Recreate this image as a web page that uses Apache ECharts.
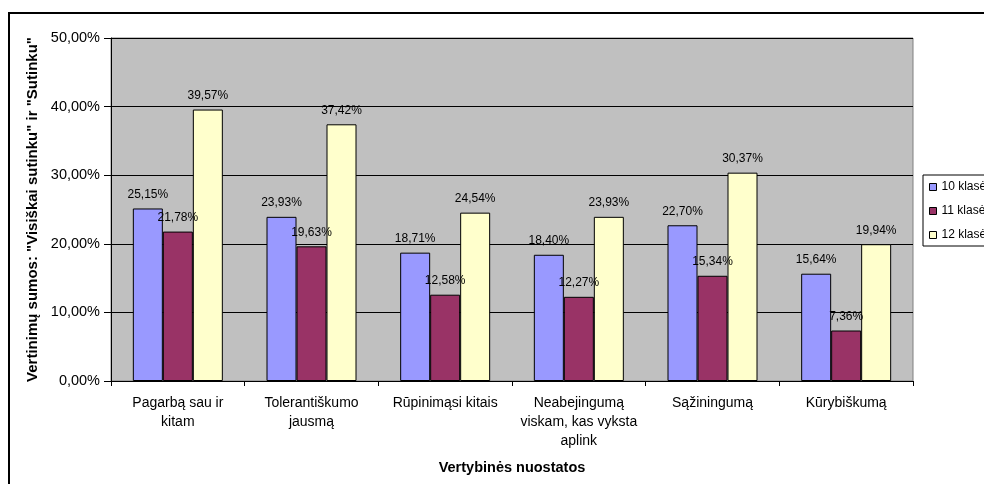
<!DOCTYPE html>
<html>
<head>
<meta charset="utf-8">
<script src="https://cdn.jsdelivr.net/npm/echarts@6/dist/echarts.min.js"></script>
<style>
  html, body { margin: 0; padding: 0; overflow: hidden; background: #fff; }
  #chart { width: 1010px; height: 510px; }
</style>
</head>
<body>
<div id="chart"></div>
<script>
const categories = ['Pagarbą sau ir\nkitam', 'Tolerantiškumo\njausmą', 'Rūpinimąsi kitais',
  'Neabejingumą\nviskam, kas vyksta\naplink', 'Sąžiningumą', 'Kūrybiškumą']
const seriesNames = ['10 klasė', '11 klasė', '12 klasė']
const grade10 = [25.15, 23.93, 18.71, 18.40, 22.70, 15.64]
const grade11 = [21.78, 19.63, 12.58, 12.27, 15.34, 7.36]
const grade12 = [39.57, 37.42, 24.54, 23.93, 30.37, 19.94]
const colors = ['#9999FF', '#993366', '#FFFFCC']

const pct = v => v.toFixed(2).replace('.', ',') + '%'
const font = 'Liberation Sans, Arial, sans-serif'

const chart = echarts.init(document.getElementById('chart'))

const makeSeries = (name, data, i) => ({
  name: name,
  type: 'bar',
  data: data,
  barWidth: 30,
  barGap: '0%',
  itemStyle: { color: colors[i], borderColor: '#000', borderWidth: 1 },
  label: {
    show: true,
    position: 'top',
    distance: 8,
    formatter: p => pct(p.value),
    color: '#000',
    fontFamily: font,
    fontSize: 12
  }
})

chart.setOption({
  animation: false,
  textStyle: { fontFamily: font },
  graphic: [{
    type: 'rect',
    shape: { x: 9, y: 13, width: 1100, height: 600 },
    style: { fill: 'none', stroke: '#000', lineWidth: 2 },
    z: -10
  }],
  grid: {
    left: 111, right: 97, top: 38, bottom: 129,
    show: true,
    backgroundColor: '#C0C0C0',
    borderColor: '#808080',
    borderWidth: 1
  },
  legend: {
    orient: 'vertical',
    left: 923,
    top: 175,
    itemWidth: 7,
    itemHeight: 7,
    itemGap: 12,
    icon: 'rect',
    padding: [6, 40, 5, 6],
    backgroundColor: '#fff',
    borderColor: '#000',
    borderWidth: 1,
    textStyle: { fontSize: 12, color: '#000', fontFamily: font },
    data: seriesNames.map((n, i) => ({ name: n, itemStyle: { color: colors[i], borderColor: '#000', borderWidth: 1 } }))
  },
  xAxis: {
    type: 'category',
    data: categories,
    name: 'Vertybinės nuostatos',
    nameLocation: 'middle',
    nameGap: 79,
    nameTextStyle: { fontWeight: 'bold', fontSize: 14.5, color: '#000', fontFamily: font },
    axisLine: { lineStyle: { color: '#000' } },
    axisTick: { show: true, alignWithLabel: false, length: 5, lineStyle: { color: '#000' } },
    axisLabel: { interval: 0, fontSize: 14, color: '#000', lineHeight: 19, margin: 13, fontFamily: font }
  },
  yAxis: {
    type: 'value',
    min: 0,
    max: 50,
    interval: 10,
    name: 'Vertinimų sumos: "Visiškai sutinku" ir "Sutinku"',
    nameLocation: 'middle',
    nameGap: 70,
    nameTextStyle: { fontWeight: 'bold', fontSize: 15, color: '#000', fontFamily: font },
    axisLine: { show: true, lineStyle: { color: '#000' } },
    axisTick: { show: true, length: 7, lineStyle: { color: '#000' } },
    axisLabel: { formatter: v => pct(v), fontSize: 14.5, color: '#000', margin: 11, fontFamily: font },
    splitLine: { lineStyle: { color: '#000' } }
  },
  series: [
    makeSeries(seriesNames[0], grade10, 0),
    makeSeries(seriesNames[1], grade11, 1),
    makeSeries(seriesNames[2], grade12, 2)
  ]
})
</script>
</body>
</html>
